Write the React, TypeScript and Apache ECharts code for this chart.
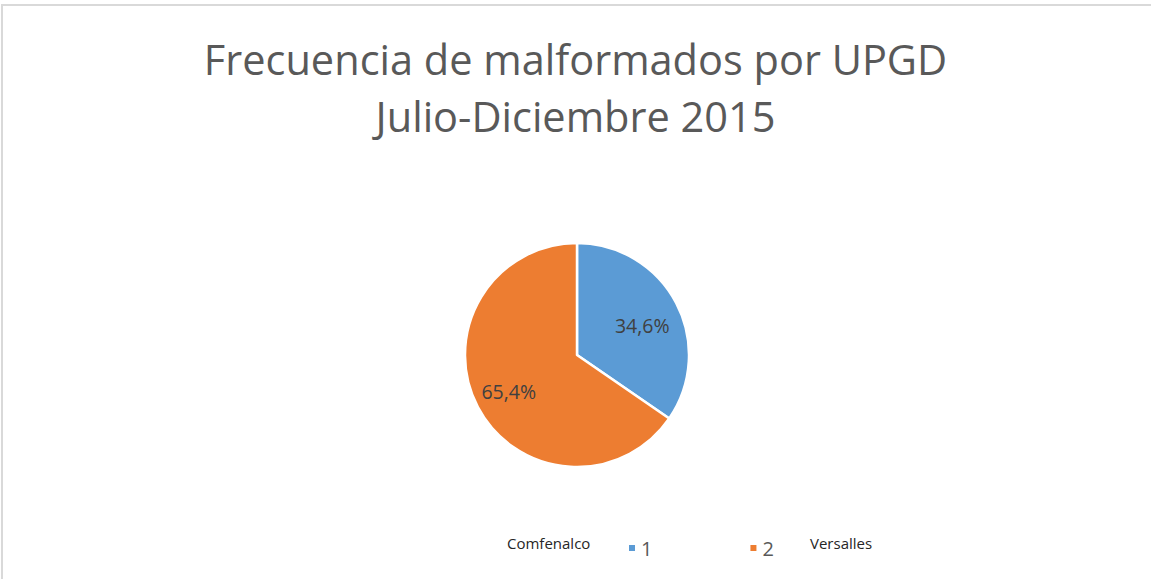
import React, { useEffect, useRef } from "react";
import * as echarts from "echarts";

const titleLines = ["Frecuencia de malformados por UPGD", "Julio-Diciembre 2015"];
const categories = ["1", "2"];
const values = [34.6, 65.4];
const colors = ["#5B9BD5", "#ED7D31"];
const sideLabels = ["Comfenalco", "Versalles"];

export default function App() {
  const ref = useRef<HTMLDivElement>(null);
  useEffect(() => {
    document.body.style.margin = "0";
    const chart = echarts.init(ref.current!, null, { renderer: "svg" });
    const labelOffsets = [
      [13, -2],
      [-16, 9],
    ];
    chart.setOption({
      animation: false,
      backgroundColor: "#ffffff",
      title: {
        text: titleLines.join("\n"),
        left: "center",
        top: 25,
        textStyle: {
          fontFamily: "Open Sans",
          fontSize: 41.5,
          lineHeight: 57,
          fontWeight: "normal",
          color: "#595959",
        },
      },
      legend: {
        data: categories,
        left: 622,
        top: 533,
        icon: "rect",
        itemWidth: 8,
        itemHeight: 8,
        itemGap: 96,
        textStyle: {
          fontFamily: "Open Sans",
          fontSize: 20,
          color: "#595959",
        },
      },
      graphic: [
        {
          type: "rect",
          shape: { x: 2, y: 5, width: 1200, height: 700 },
          style: { fill: "none", stroke: "#d9d9d9", lineWidth: 2 },
          silent: true,
        },
        {
          type: "text",
          left: 507,
          top: 535,
          style: {
            text: sideLabels[0],
            fontFamily: "Open Sans",
            fontSize: 15,
            fill: "#262626",
          },
        },
        {
          type: "text",
          left: 810,
          top: 535,
          style: {
            text: sideLabels[1],
            fontFamily: "Open Sans",
            fontSize: 15,
            fill: "#262626",
          },
        },
      ],
      series: [
        {
          type: "pie",
          center: [577, 355],
          radius: 112,
          startAngle: 90,
          clockwise: true,
          itemStyle: { borderColor: "#ffffff", borderWidth: 2.5 },
          label: {
            show: true,
            position: "inside",
            fontFamily: "Open Sans",
            fontSize: 19.5,
            color: "#404040",
            formatter: (p: any) => String(p.value.toFixed(1)).replace(".", ",") + "%",
          },
          labelLine: { show: false },
          emphasis: { disabled: true },
          data: categories.map((c, i) => ({
            name: c,
            value: values[i],
            itemStyle: { color: colors[i] },
            label: { offset: labelOffsets[i] },
          })),
        },
      ],
    });
    return () => chart.dispose();
  }, []);
  return <div ref={ref} style={{ width: 1151, height: 579 }} />;
}
